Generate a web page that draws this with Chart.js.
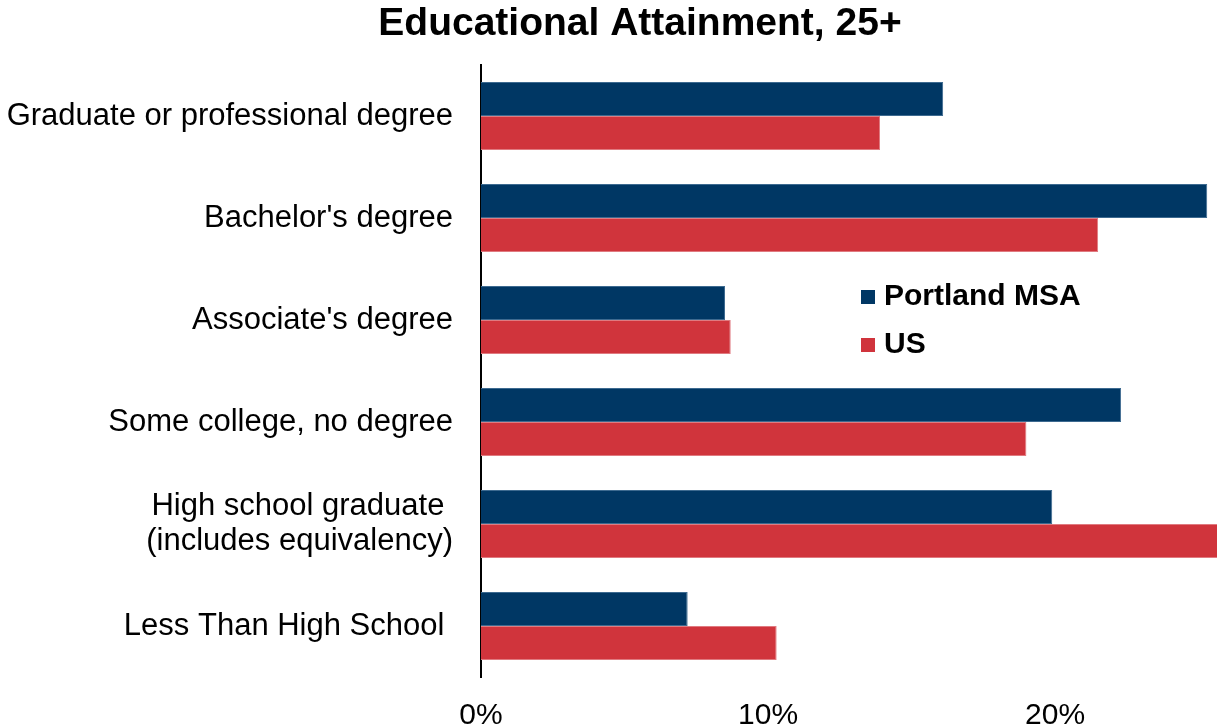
<!DOCTYPE html>
<html>
<head>
<meta charset="utf-8">
<script src="https://cdn.jsdelivr.net/npm/chart.js@4.4.1/dist/chart.umd.min.js"></script>
<style>
  html, body { margin: 0; padding: 0; background: #ffffff; }
  #wrap { width: 1217px; height: 727px; position: relative; }
</style>
</head>
<body>
<div id="wrap"><canvas id="chart"></canvas></div>
<script>
const categories = [
  "Graduate or professional degree",
  "Bachelor's degree",
  "Associate's degree",
  "Some college, no degree",
  ["High school graduate ", "(includes equivalency)"],
  "Less Than High School "
];
const portlandValues = [16.1, 25.3, 8.5, 22.3, 19.9, 7.2];
const usValues = [13.9, 21.5, 8.7, 19.0, 27.5, 10.3];
const xTicks = [0, 10, 20];

const titleText = "Educational Attainment, 25+";
const NAVY = "#003764";
const RED = "#d0343c";
const FONT = "'Liberation Sans', Arial, sans-serif";

const titlePlugin = {
  id: "titlePlugin",
  afterDraw(chart) {
    const { ctx } = chart;
    ctx.save();
    ctx.fillStyle = "#000000";
    ctx.font = "bold 39px " + FONT;
    ctx.textAlign = "center";
    ctx.textBaseline = "middle";
    ctx.fillText(titleText, 640, 24);
    ctx.restore();
  }
};

const legendPlugin = {
  id: "legendPlugin",
  afterDraw(chart) {
    const { ctx } = chart;
    ctx.save();
    ctx.font = "bold 30px " + FONT;
    ctx.textBaseline = "middle";
    chart.data.datasets.forEach((ds, i) => {
      const y = 297 + i * 48;
      ctx.fillStyle = ds.backgroundColor;
      ctx.fillRect(861, y - 7, 14, 14);
      ctx.fillStyle = "#000000";
      ctx.fillText(ds.label, 884, y);
    });
    ctx.restore();
  }
};

new Chart(document.getElementById("chart"), {
  type: "bar",
  data: {
    labels: categories,
    datasets: [
      {
        label: "Portland MSA",
        data: portlandValues,
        backgroundColor: NAVY,
        borderColor: "#3d6a90",
        borderWidth: 1,
        categoryPercentage: 0.667,
        barPercentage: 1.0
      },
      {
        label: "US",
        data: usValues,
        backgroundColor: RED,
        borderColor: "#e07a80",
        borderWidth: 1,
        categoryPercentage: 0.667,
        barPercentage: 1.0
      }
    ]
  },
  options: {
    indexAxis: "y",
    responsive: true,
    maintainAspectRatio: false,
    animation: false,
    layout: { padding: { top: 65, left: 0, right: 0, bottom: 0 } },
    plugins: {
      legend: { display: false },
      title: { display: false },
      tooltip: { enabled: false }
    },
    scales: {
      x: {
        type: "linear",
        min: 0,
        max: 25.64,
        grid: { display: false, drawTicks: false },
        border: { display: false },
        afterBuildTicks(scale) {
          scale.ticks = xTicks.map((v) => ({ value: v }));
        },
        afterFit(scale) {
          scale.height = 50;
        },
        ticks: {
          color: "#000000",
          padding: 21,
          font: { family: FONT, size: 30 },
          callback(value) {
            return value + "%";
          }
        }
      },
      y: {
        grid: { display: false, drawTicks: false },
        border: { display: true, color: "#000000", width: 2 },
        afterFit(scale) {
          scale.width = 481;
        },
        ticks: {
          color: "#000000",
          padding: 28,
          font: { family: FONT, size: 31, lineHeight: 1.13 }
        }
      }
    }
  },
  plugins: [titlePlugin, legendPlugin]
});
</script>
</body>
</html>
